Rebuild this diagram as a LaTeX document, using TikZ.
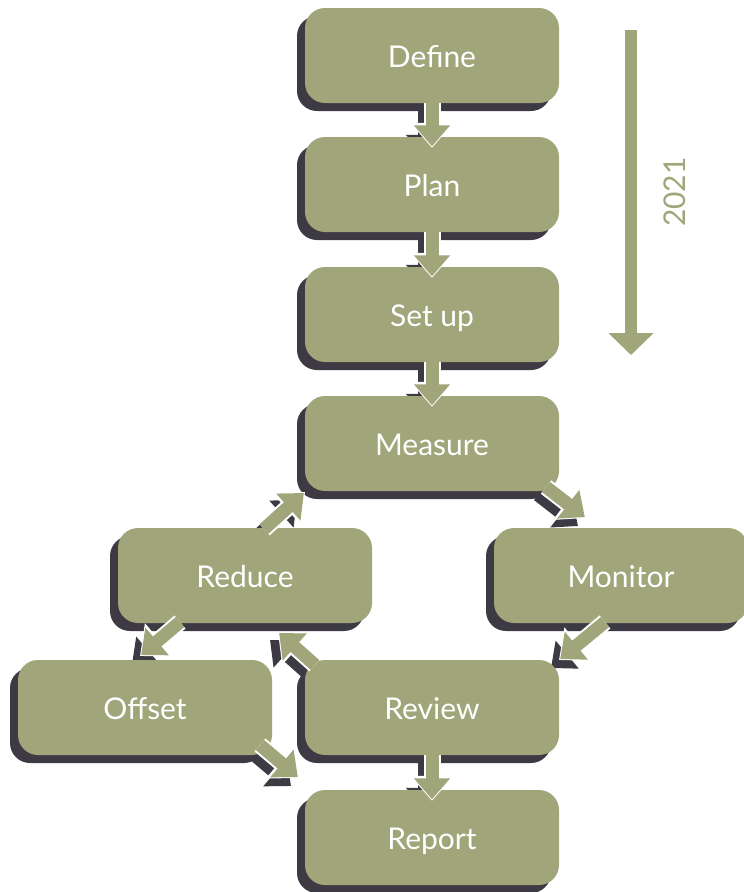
\documentclass[tikz,border=0pt]{standalone}
\usepackage{fontspec}
\setmainfont{Lato}
\usetikzlibrary{arrows.meta,shadows}
\definecolor{boxgreen}{HTML}{A1A57A}
\definecolor{shade}{HTML}{3D3A44}
\pgfdeclarelayer{bg}
\pgfsetlayers{bg,main}
\begin{document}
\begin{tikzpicture}[x=1pt,y=-1pt,
  stepbox/.style={fill=boxgreen, rounded corners=20pt, minimum width=254pt,
    minimum height=95pt, text=white, font=\fontsize{30}{36}\selectfont,
    text height=23pt, text depth=0pt,
    drop shadow={shadow xshift=-8pt, shadow yshift=-8pt, fill=shade, opacity=1}},
  flow/.style={draw=boxgreen, line width=13pt, -{Triangle[width=35pt,length=21pt]},
    shorten >=1.5pt,
    preaction={draw=white, line width=17pt, -{Triangle[width=42pt,length=25pt]}, shorten >=0pt}},
  flowshadow/.style={draw=shade, line width=13pt, -{Triangle[width=35pt,length=21pt]},
    transform canvas={shift={(-8pt,-8pt)}}},
  timeline/.style={draw=boxgreen, line width=12pt, -{Triangle[width=44pt,length=22pt]}},
  yearlabel/.style={text=boxgreen, font=\fontsize{30}{36}\selectfont, rotate=90}
]
\useasboundingbox (0,0) rectangle (744,892);

\node[stepbox] (define)  at (432,55.5)  {Define};
\node[stepbox] (plan)    at (432,184.5) {Plan};
\node[stepbox] (setup)   at (432,314.5) {Set up};
\node[stepbox] (measure) at (432,443.5) {Measure};
\node[stepbox] (reduce)  at (245,575.5) {Reduce};
\node[stepbox] (monitor) at (621,575.5) {Monitor};
\node[stepbox] (offset)  at (145,707.5) {Offset};
\node[stepbox] (review)  at (432,707.5) {Review};
\node[stepbox] (report)  at (432,837.5) {Report};

\coordinate (r1) at (264,529);
\coordinate (m1) at (305,492);
\coordinate (m2) at (546,487);
\coordinate (n1) at (586,518);
\coordinate (r2) at (180,622);
\coordinate (o1) at (140,656);
\coordinate (v1) at (315,665);
\coordinate (r3) at (278,632);
\coordinate (n2) at (605,622);
\coordinate (v2) at (559,660);
\coordinate (o2) at (260,745);
\coordinate (v3) at (299,778);

\coordinate (t1) at (631,30);
\coordinate (t2) at (631,355);

\begin{pgfonlayer}{bg}
\draw[flowshadow] (define.south) -- ([yshift=-11pt]plan.north);
\draw[flowshadow] (plan.south) -- ([yshift=-11pt]setup.north);
\draw[flowshadow] (setup.south) -- ([yshift=-11pt]measure.north);
\draw[flowshadow] (review.south) -- ([yshift=-11pt]report.north);
\draw[flowshadow] (r1) -- (m1);
\draw[flowshadow] (m2) -- (n1);
\draw[flowshadow] (r2) -- (o1);
\draw[flowshadow] (v1) -- (r3);
\draw[flowshadow] (n2) -- (v2);
\draw[flowshadow] (o2) -- (v3);
\end{pgfonlayer}

\draw[flow] (define.south) -- ([yshift=-11pt]plan.north);
\draw[flow] (plan.south) -- ([yshift=-11pt]setup.north);
\draw[flow] (setup.south) -- ([yshift=-11pt]measure.north);
\draw[flow] (review.south) -- ([yshift=-11pt]report.north);
\draw[flow] (r1) -- (m1);
\draw[flow] (m2) -- (n1);
\draw[flow] (r2) -- (o1);
\draw[flow] (v1) -- (r3);
\draw[flow] (n2) -- (v2);
\draw[flow] (o2) -- (v3);

\draw[timeline] (t1) -- (t2);
\node[yearlabel] (year) at (675,192) {2021};
\end{tikzpicture}
\end{document}
